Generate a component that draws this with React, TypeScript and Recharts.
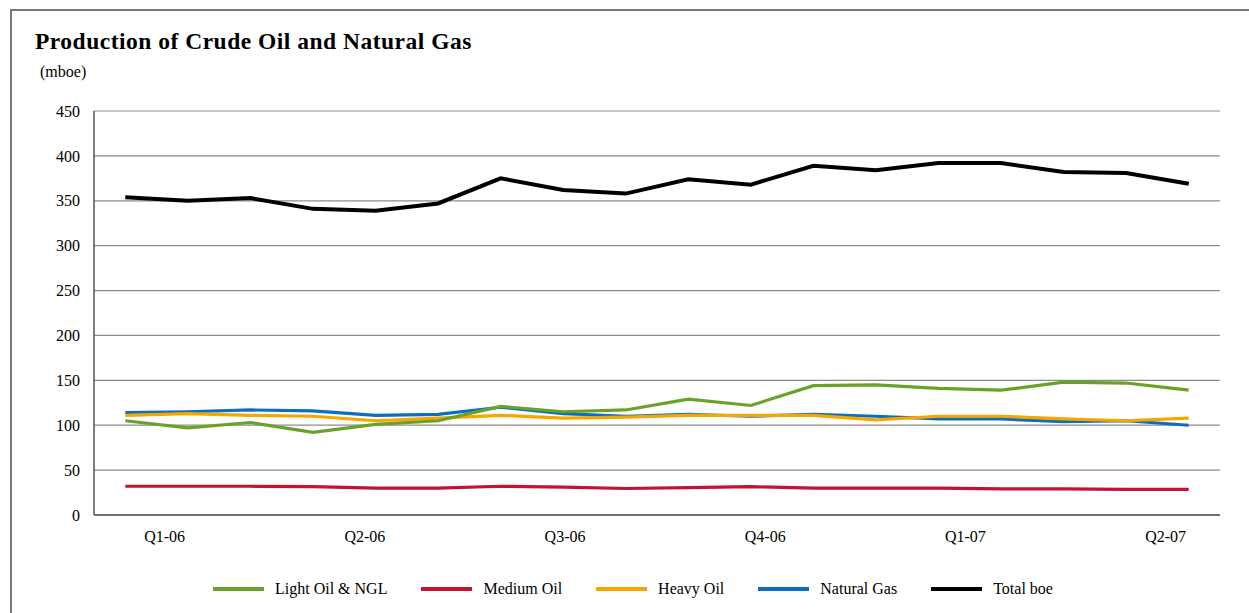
import React from 'react';
import { LineChart, Line, XAxis, YAxis, CartesianGrid } from 'recharts';

// monthly production, mboe (Jan-06 .. Jun-07)
const months = [
  'Jan-06', 'Feb-06', 'Mar-06', 'Apr-06', 'May-06', 'Jun-06',
  'Jul-06', 'Aug-06', 'Sep-06', 'Oct-06', 'Nov-06', 'Dec-06',
  'Jan-07', 'Feb-07', 'Mar-07', 'Apr-07', 'May-07', 'Jun-07',
];
const lightOil = [105, 97, 103, 92, 101, 105, 121, 115, 117, 129, 122, 144, 145, 141, 139, 148, 147, 139];
const mediumOil = [32, 32, 32, 31.5, 30, 30, 32, 31, 29.5, 30.5, 31.5, 30, 30, 30, 29, 29, 28.5, 28.5];
const heavyOil = [111, 113, 111, 110, 105, 108, 111, 108, 109, 111, 111, 111, 106, 110, 110, 107, 105, 108];
const naturalGas = [114, 115, 117, 116, 111, 112, 120, 113, 110, 112, 110, 112, 110, 107, 107, 104, 105, 100];
const totalBoe = [354, 350, 353, 341, 339, 347, 375, 362, 358, 374, 368, 389, 384, 392, 392, 382, 381, 369];

const quarterLabels = ['Q1-06', 'Q2-06', 'Q3-06', 'Q4-06', 'Q1-07', 'Q2-07'];
const yTicks = [0, 50, 100, 150, 200, 250, 300, 350, 400, 450];

// where the quarter labels sit on the month axis (the source spreads them a bit wider than 3 months)
const quarterTicks = [1.13, 4.33, 7.53, 10.73, 13.93, 17.13];

const series = [
  { key: 'light', name: 'Light Oil & NGL', color: '#6aa229', width: 3.2 },
  { key: 'medium', name: 'Medium Oil', color: '#c4122f', width: 3.2 },
  { key: 'heavy', name: 'Heavy Oil', color: '#f5a700', width: 3.2 },
  { key: 'gas', name: 'Natural Gas', color: '#0b6fbf', width: 3.2 },
  { key: 'total', name: 'Total boe', color: '#000000', width: 4 },
];
const drawOrder = ['medium', 'gas', 'heavy', 'light', 'total'];

const data = months.map((m, i) => ({
  month: m,
  pos: i + 0.5,
  light: lightOil[i],
  medium: mediumOil[i],
  heavy: heavyOil[i],
  gas: naturalGas[i],
  total: totalBoe[i],
}));

const font = '"Liberation Serif", "Times New Roman", serif';

export default function App() {
  return (
    <div style={{ position: 'absolute', left: 0, top: 0, width: 1249, height: 613, background: '#fff', overflow: 'hidden', fontFamily: font }}>
      <div style={{ position: 'absolute', left: 10, top: 9, width: 1400, height: 800, borderTop: '2px solid #777', borderLeft: '2px solid #777' }} />
      <div style={{ position: 'absolute', left: 35, top: 30, fontSize: 23.5, lineHeight: '23.5px', fontWeight: 'bold', letterSpacing: 0.5, color: '#000' }}>
        Production of Crude Oil and Natural Gas
      </div>
      <div style={{ position: 'absolute', left: 40, top: 64, fontSize: 16, lineHeight: '16px', color: '#000' }}>(mboe)</div>

      <div style={{ position: 'absolute', left: 0, top: 0 }}>
        <LineChart width={1249} height={613} data={data} margin={{ top: 111, right: 29, left: 34, bottom: 58 }}>
          <CartesianGrid vertical={false} stroke="#8c8c8c" strokeWidth={1.2} />
          <XAxis
            dataKey="pos"
            type="number"
            domain={[0, 18]}
            ticks={quarterTicks}
            interval={0}
            height={40}
            tickFormatter={(v: number) => quarterLabels[quarterTicks.indexOf(v)] ?? ''}
            tickLine={false}
            tickMargin={10}
            axisLine={{ stroke: '#555', strokeWidth: 1.5 }}
            tick={{ fontSize: 16, fill: '#000', fontFamily: font }}
          />
          <YAxis
            domain={[0, 450]}
            ticks={yTicks}
            width={60}
            tickLine={false}
            tickMargin={8}
            axisLine={{ stroke: '#555', strokeWidth: 1.5 }}
            tick={{ fontSize: 16, fill: '#000', fontFamily: font }}
          />
          {drawOrder.map((k) => {
            const s = series.find((x) => x.key === k)!;
            return (
              <Line
                key={k}
                type="linear"
                dataKey={k}
                name={s.name}
                stroke={s.color}
                strokeWidth={s.width}
                dot={false}
                activeDot={false}
                isAnimationActive={false}
              />
            );
          })}
        </LineChart>
      </div>

      <div style={{ position: 'absolute', left: 213, top: 579, height: 20, display: 'flex', alignItems: 'center', fontSize: 16, color: '#000' }}>
        {series.map((s) => (
          <div key={s.key} style={{ display: 'flex', alignItems: 'center', marginRight: 34 }}>
            <div style={{ width: 51, height: 4, background: s.color, marginRight: 11 }} />
            <span>{s.name}</span>
          </div>
        ))}
      </div>
    </div>
  );
}
